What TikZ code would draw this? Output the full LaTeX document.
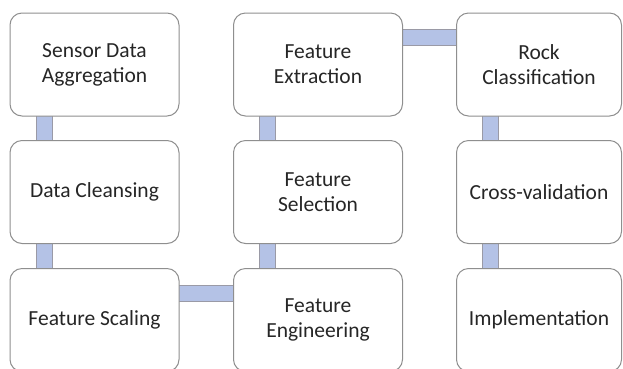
\documentclass[tikz,border=0pt]{standalone}
\usepackage{fontspec}
\setmainfont{Carlito}
\usetikzlibrary{backgrounds}
\definecolor{boxgray}{HTML}{8F8F8F}
\definecolor{conngray}{HTML}{9A9AA6}
\definecolor{connblue}{HTML}{B4C2E6}
\definecolor{textgray}{HTML}{262626}
\begin{document}
\begin{tikzpicture}[x=1pt,y=-1pt,
  box/.style={draw=boxgray, line width=1pt, rounded corners=12pt, fill=white,
    minimum width=169pt, minimum height=103pt, align=center, inner sep=0pt,
    text=textgray, font=\fontsize{21.5}{25}\selectfont, anchor=north west},
  conn/.style={draw=conngray, line width=1pt, double=connblue, double distance=15pt}]
\useasboundingbox (0,0) rectangle (623,368);
\clip (0,0) rectangle (623,368);
\node[box] (a1) at (9.5,12.5) {Sensor Data\\Aggregation};
\node[box] (b1) at (9.5,140) {Data Cleansing};
\node[box] (c1) at (9.5,268) {Feature Scaling};
\node[box] (a2) at (233,12.5) {Feature\\Extraction};
\node[box] (b2) at (233,140) {Feature\\Selection};
\node[box] (c2) at (233,268) {Feature\\Engineering};
\node[box, minimum width=165pt] (a3) at (456,12.5) {Rock\\Classification};
\node[box, minimum width=165pt] (b3) at (456,140) {Cross-validation};
\node[box, minimum width=165pt] (c3) at (456,268) {Implementation};
\begin{scope}[on background layer]
\draw[conn] ([xshift=35pt,yshift=2pt]a1.south west) -- ([xshift=35pt,yshift=-2pt]b1.north west);
\draw[conn] ([xshift=35pt,yshift=2pt]b1.south west) -- ([xshift=35pt,yshift=-2pt]c1.north west);
\draw[conn] ([xshift=-2pt,yshift=-25.5pt]c1.north east) -- ([xshift=2pt,yshift=-25.5pt]c2.north west);
\draw[conn] ([xshift=34pt,yshift=-2pt]c2.north west) -- ([xshift=34pt,yshift=2pt]b2.south west);
\draw[conn] ([xshift=34pt,yshift=-2pt]b2.north west) -- ([xshift=34pt,yshift=2pt]a2.south west);
\draw[conn] ([xshift=-2pt,yshift=-25pt]a2.north east) -- ([xshift=2pt,yshift=-25pt]a3.north west);
\draw[conn] ([xshift=34.5pt,yshift=2pt]a3.south west) -- ([xshift=34.5pt,yshift=-2pt]b3.north west);
\draw[conn] ([xshift=34.5pt,yshift=2pt]b3.south west) -- ([xshift=34.5pt,yshift=-2pt]c3.north west);
\end{scope}
\end{tikzpicture}
\end{document}
